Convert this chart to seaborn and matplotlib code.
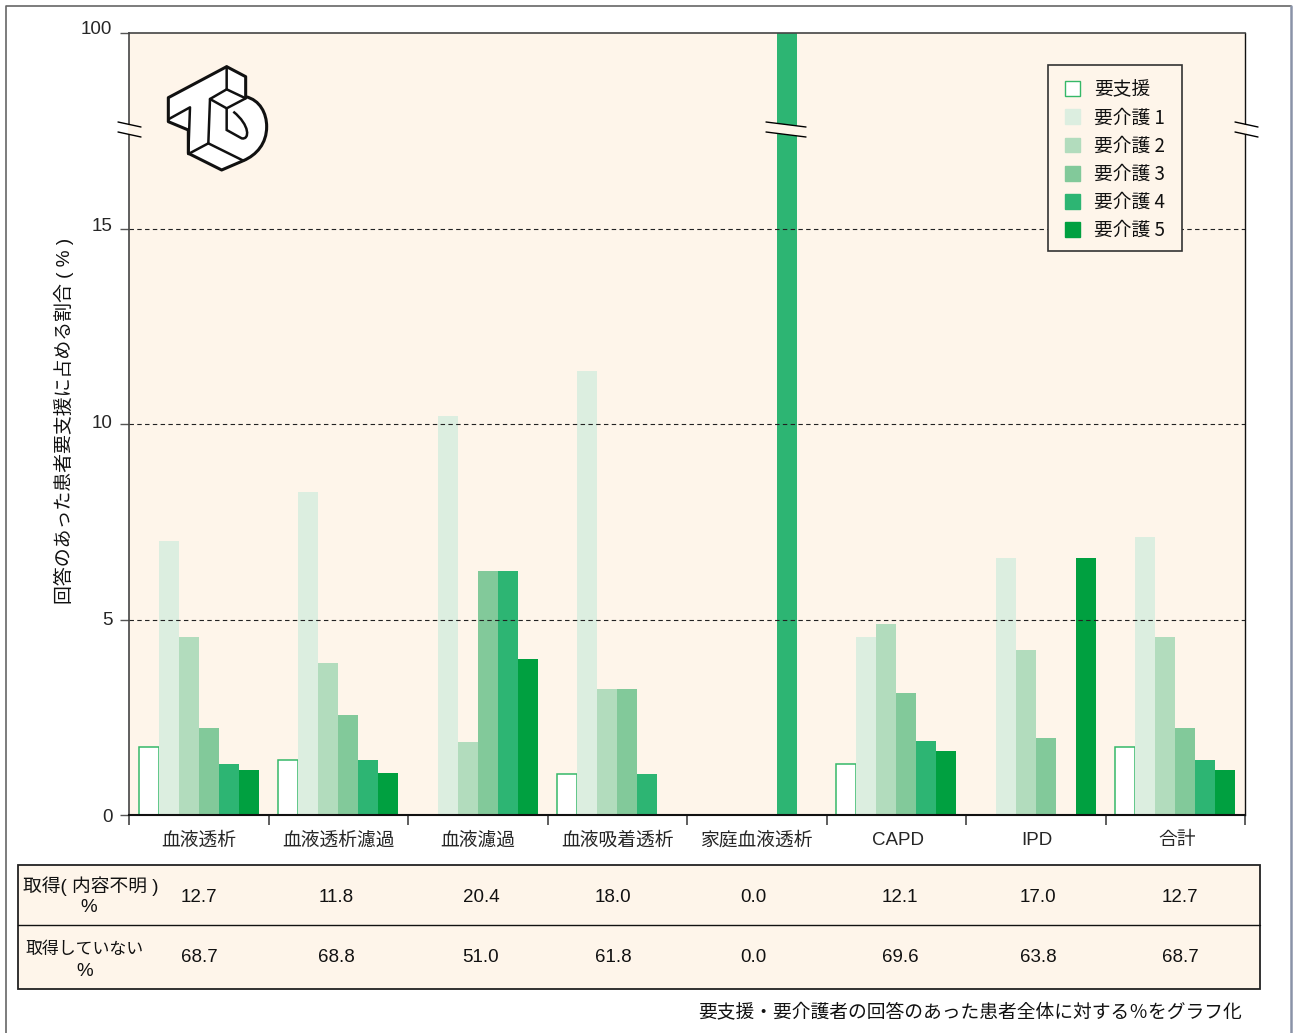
import numpy as np
import pandas as pd
import seaborn as sns
import matplotlib.pyplot as plt
from matplotlib.patches import Patch, Rectangle, PathPatch
from matplotlib.path import Path
from matplotlib.transforms import ScaledTranslation

# Data
categories = ["血液透析", "血液透析濾過", "血液濾過", "血液吸着透析", "家庭血液透析", "CAPD", "IPD", "合計"]
levels = ["要支援", "要介護 1", "要介護 2", "要介護 3", "要介護 4", "要介護 5"]
shien = [1.74, 1.40, 0, 1.05, 0, 1.30, 0, 1.74]
kaigo1 = [7.00, 8.26, 10.20, 11.36, 0, 4.55, 6.57, 7.10]
kaigo2 = [4.55, 3.89, 1.87, 3.22, 0, 4.88, 4.22, 4.55]
kaigo3 = [2.22, 2.56, 6.24, 3.22, 0, 3.12, 1.97, 2.22]
kaigo4 = [1.30, 1.40, 6.24, 1.05, 100, 1.89, 0, 1.40]
kaigo5 = [1.15, 1.07, 4.00, 0, 0, 1.63, 6.57, 1.15]
row_unknown = ["12.7", "11.8", "20.4", "18.0", "0.0", "12.1", "17.0", "12.7"]
row_none = ["68.7", "68.8", "51.0", "61.8", "0.0", "69.6", "63.8", "68.7"]
yticks = [0, 5, 10, 15, 100]

colors = ["#FFFFFF", "#DCEEE0", "#B2DCBD", "#82C99A", "#2DB573", "#00A040"]
bg = "#FEF5EA"
W, H = 1294, 1033

df = pd.DataFrame({"cat": categories, levels[0]: shien, levels[1]: kaigo1, levels[2]: kaigo2,
                   levels[3]: kaigo3, levels[4]: kaigo4, levels[5]: kaigo5})
df = df.melt(id_vars="cat", var_name="level", value_name="pct")

sns.set_theme(style="white")
plt.rcParams["font.family"] = ["Liberation Sans", "Noto Sans CJK JP", "DejaVu Sans"]
plt.rcParams["text.color"] = "#111111"


# axis is linear up to 15, then 15-100 squeezed into the last part
def fwd(v):
    v = np.asarray(v, dtype=float)
    return np.where(v <= 15, v, 15 + (v - 15) * 5 / 85)


def inv(v):
    v = np.asarray(v, dtype=float)
    return np.where(v <= 15, v, 15 + (v - 15) * 85 / 5)


fig = plt.figure(figsize=(W / 100, H / 100), dpi=100)
ax = fig.add_axes([129 / W, (H - 815) / H, 1116 / W, 782 / H])
ax.set_facecolor(bg)
ax.set_axisbelow(True)

sns.barplot(data=df, x="cat", y="pct", hue="level", hue_order=levels, order=categories,
            palette=colors, width=0.86, gap=0, saturation=1, legend=False, ax=ax, errorbar=None,
            linewidth=0)

# outline the white bars
for bar in ax.containers[0]:
    if bar.get_height() > 0:
        bar.set_edgecolor("#35B868")
        bar.set_linewidth(1.1)

ax.set_yscale("function", functions=(fwd, inv))
ax.set_ylim(0, 100)
ax.set_xlim(-0.5, 7.5)
ax.set_yticks(yticks)
ax.set_yticklabels([str(t) for t in yticks], fontsize=13.5)
ax.minorticks_off()
ax.tick_params(axis="y", length=6.5, width=1, color="#555555", pad=5.5, left=True)
ax.set_xticks(range(8))
ax.set_xticklabels(categories, fontsize=13.5)
ax.set_xticks(np.arange(-0.5, 8), minor=True)
ax.tick_params(axis="x", which="major", length=0, pad=12.3)
ax.tick_params(axis="x", which="minor", length=7.5, width=1.1, color="#333333", bottom=True)
ax.set_xlabel("")
ax.set_ylabel("")

# labels in the picture sit a little off their ticks
for lab, up in zip(ax.get_yticklabels(), [0, 1, 3, 4, 6]):
    lab.set_transform(lab.get_transform() + ScaledTranslation(0, up / 100, fig.dpi_scale_trans))
for lab, right in zip(ax.get_xticklabels(), [0, 0, 0, 0, 0, 2, 1, 2]):
    lab.set_transform(lab.get_transform() + ScaledTranslation(right / 100, 0, fig.dpi_scale_trans))

for t in [5, 10, 15]:
    ax.axhline(t, color="#222222", lw=0.8, dashes=(4, 3), zorder=1)
ax.spines["left"].set_color("#444444")
ax.spines["left"].set_linewidth(1.2)
ax.spines["right"].set_color("#111111")
ax.spines["right"].set_linewidth(1)
ax.spines["bottom"].set_color("#111111")
ax.spines["bottom"].set_linewidth(1.5)
ax.spines["top"].set_color("#444444")
ax.spines["top"].set_linewidth(1.2)

# pixel overlay for frame, break marks, table and logo
ov = fig.add_axes([0, 0, 1, 1], zorder=5)
ov.set_xlim(0, W)
ov.set_ylim(H, 0)
ov.axis("off")
ov.patch.set_alpha(0)

# legend box is drawn apart so its padding can differ from the row layout
ax.add_patch(Rectangle((1048, 64.5), 134, 186.5, transform=ov.transData, facecolor=bg,
                       edgecolor="#333333", lw=1.2, zorder=4, clip_on=False))
handles = [Patch(facecolor=c, edgecolor=("#35B868" if i == 0 else c), linewidth=1)
           for i, c in enumerate(colors)]
leg = ax.legend(handles, levels, loc="upper left", bbox_to_anchor=(936 / 1116, 1 - 46.25 / 782),
                borderaxespad=0, handlelength=0.82, handleheight=0.85,
                labelspacing=0.38, handletextpad=0.72, borderpad=0, frameon=False,
                prop={"family": ["Noto Sans CJK JP"], "size": 13.5})
leg.set_zorder(6)

ov.plot([5.5, 5.5, 1291], [H, 6, 6], color="#666666", lw=1.2)
ov.plot([1291, 1291], [6, H], color="#8A93A8", lw=1.8)

# axis breaks, the axis line and the tall bar stop between the two strokes
ov.add_patch(Rectangle((127.5, 125), 3, 9, facecolor=bg, edgecolor="none"))
ov.add_patch(Rectangle((1243.5, 125), 3, 9, facecolor=bg, edgecolor="none"))
ov.fill([766, 806, 806, 766], [122, 127, 137, 132], color=bg, lw=0)
for x0, x1 in [(118, 141), (766, 806), (1235, 1258)]:
    ov.plot([x0, x1], [122, 127], color="black", lw=1)
    ov.plot([x0, x1], [132, 137], color="black", lw=1)

ov.text(64, 421, "回答のあった患者要支援に占める割合 ( % )", rotation=90, ha="center", va="center", fontsize=13.6)

# table under the chart
ov.add_patch(Rectangle((18, 865), 1242, 124, facecolor=bg, edgecolor="#222222", lw=1.3))
ov.plot([18, 1260], [925, 925], color="#111111", lw=1)
col_x = [199, 336, 481, 613, 753, 900, 1038, 1180]
for x, a, b in zip(col_x, row_unknown, row_none):
    ov.text(x, 898, a, ha="center", va="center", fontsize=13.5)
    ov.text(x, 957, b, ha="center", va="center", fontsize=13.5)
ov.text(91, 886, "取得( 内容不明 )", ha="center", va="center", fontsize=13.5)
ov.text(89, 908, "%", ha="center", va="center", fontsize=13.5)
ov.text(85, 949, "取得していない", ha="center", va="center", fontsize=12.2)
ov.text(85, 972, "%", ha="center", va="center", fontsize=13.5)
ov.text(1242, 1013, "要支援・要介護者の回答のあった患者全体に対する％をグラフ化", ha="right", va="center", fontsize=13.5)


# logo
def lg(pts):
    return [(px / 3, py / 3) for px, py in pts]


verts = lg([(505, 293), (680, 200), (737, 230), (737, 290), (780, 300), (800, 340), (800, 380),
            (800, 430), (770, 465), (730, 482), (665, 510), (565, 460), (565, 390), (505, 365), (505, 293)])
codes = [Path.MOVETO, Path.LINETO, Path.LINETO, Path.LINETO, Path.CURVE4, Path.CURVE4, Path.CURVE4,
         Path.CURVE4, Path.CURVE4, Path.CURVE4, Path.LINETO, Path.LINETO, Path.LINETO, Path.LINETO,
         Path.CLOSEPOLY]
ov.add_patch(PathPatch(Path(verts, codes), facecolor="white", edgecolor="#111111", lw=2.2, joinstyle="round"))
logo_lines = [
    [(680, 200), (680, 268), (737, 295)],
    [(680, 268), (630, 297), (680, 325), (737, 295)],
    [(630, 297), (625, 430), (565, 462)],
    [(625, 430), (730, 482)],
    [(505, 358), (570, 322), (565, 460)],
]
for line in logo_lines:
    xs, ys = zip(*lg(line))
    ov.plot(xs, ys, color="#111111", lw=1.8, solid_joinstyle="round")
counter = lg([(680, 325), (680, 390), (725, 415), (750, 420), (750, 375), (700, 335)])
counter_codes = [Path.MOVETO, Path.LINETO, Path.LINETO, Path.CURVE4, Path.CURVE4, Path.CURVE4]
ov.add_patch(PathPatch(Path(counter, counter_codes), facecolor="none", edgecolor="#111111", lw=1.8))

fig.savefig("out.png", dpi=100)
